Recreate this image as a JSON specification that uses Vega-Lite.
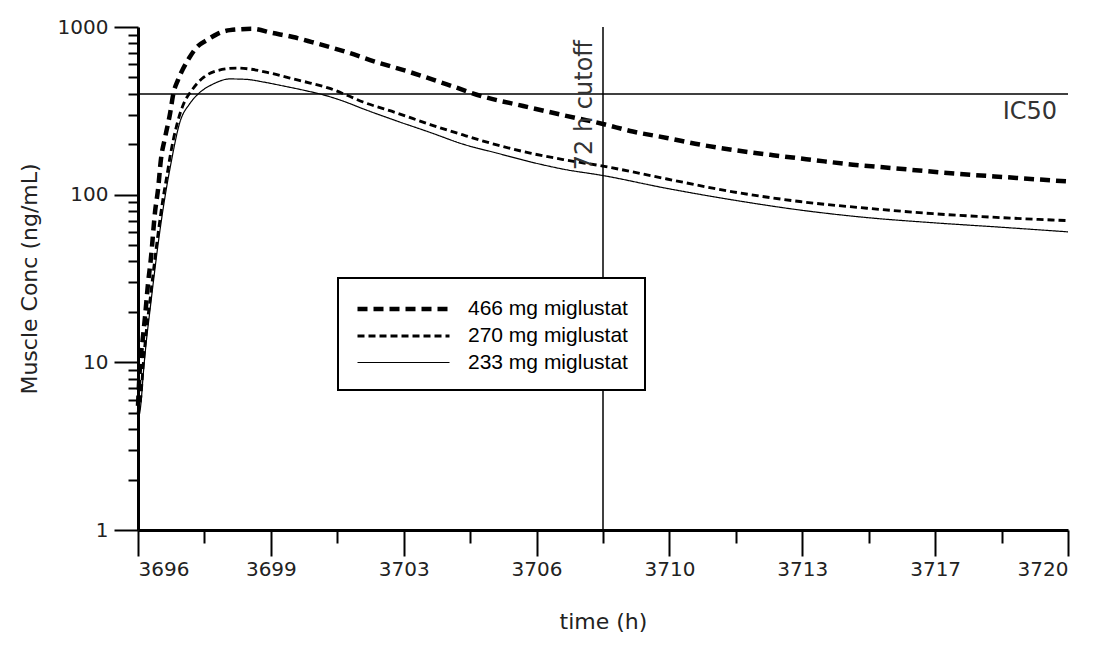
{
  "$schema": "https://vega.github.io/schema/vega-lite/v6.json",
  "width": 930,
  "height": 503,
  "autosize": {"type": "none"},
  "padding": {"left": 138, "top": 27, "right": 31, "bottom": 120},
  "background": "white",
  "config": {
    "view": {"stroke": null},
    "axis": {
      "grid": false,
      "domainColor": "black",
      "domainWidth": 3,
      "tickColor": "black",
      "tickWidth": 2,
      "labelFont": "DejaVu Sans",
      "labelFontSize": 20,
      "labelColor": "#222",
      "titleFont": "DejaVu Sans",
      "titleFontSize": 22,
      "titleFontWeight": "normal",
      "titleColor": "#222",
      "labelOverlap": false,
      "labelBound": false
    }
  },
  "layer": [
    {
      "data": {
        "values": [
          {"series": "466 mg miglustat", "t": 3696.0, "c": 5.5},
          {"series": "466 mg miglustat", "t": 3696.05, "c": 9.4},
          {"series": "466 mg miglustat", "t": 3696.12, "c": 13.6},
          {"series": "466 mg miglustat", "t": 3696.18, "c": 18.6},
          {"series": "466 mg miglustat", "t": 3696.26, "c": 29.7},
          {"series": "466 mg miglustat", "t": 3696.33, "c": 41},
          {"series": "466 mg miglustat", "t": 3696.44, "c": 79},
          {"series": "466 mg miglustat", "t": 3696.52, "c": 109},
          {"series": "466 mg miglustat", "t": 3696.59, "c": 161},
          {"series": "466 mg miglustat", "t": 3696.7, "c": 220},
          {"series": "466 mg miglustat", "t": 3696.83, "c": 307},
          {"series": "466 mg miglustat", "t": 3696.91, "c": 398},
          {"series": "466 mg miglustat", "t": 3697.03, "c": 482},
          {"series": "466 mg miglustat", "t": 3697.16, "c": 561},
          {"series": "466 mg miglustat", "t": 3697.32, "c": 653},
          {"series": "466 mg miglustat", "t": 3697.52, "c": 759},
          {"series": "466 mg miglustat", "t": 3697.78, "c": 836},
          {"series": "466 mg miglustat", "t": 3698.04, "c": 907},
          {"series": "466 mg miglustat", "t": 3698.37, "c": 958},
          {"series": "466 mg miglustat", "t": 3698.94, "c": 975},
          {"series": "466 mg miglustat", "t": 3699.48, "c": 920},
          {"series": "466 mg miglustat", "t": 3700.0, "c": 871},
          {"series": "466 mg miglustat", "t": 3700.49, "c": 813},
          {"series": "466 mg miglustat", "t": 3700.95, "c": 759},
          {"series": "466 mg miglustat", "t": 3701.39, "c": 708},
          {"series": "466 mg miglustat", "t": 3701.99, "c": 635},
          {"series": "466 mg miglustat", "t": 3703.02, "c": 538},
          {"series": "466 mg miglustat", "t": 3703.97, "c": 455},
          {"series": "466 mg miglustat", "t": 3704.9, "c": 385},
          {"series": "466 mg miglustat", "t": 3705.94, "c": 338},
          {"series": "466 mg miglustat", "t": 3706.97, "c": 298},
          {"series": "466 mg miglustat", "t": 3708.0, "c": 264},
          {"series": "466 mg miglustat", "t": 3708.77, "c": 238},
          {"series": "466 mg miglustat", "t": 3709.65, "c": 218},
          {"series": "466 mg miglustat", "t": 3710.5, "c": 199},
          {"series": "466 mg miglustat", "t": 3711.35, "c": 185},
          {"series": "466 mg miglustat", "t": 3712.39, "c": 172},
          {"series": "466 mg miglustat", "t": 3713.42, "c": 161},
          {"series": "466 mg miglustat", "t": 3714.45, "c": 151},
          {"series": "466 mg miglustat", "t": 3715.48, "c": 144},
          {"series": "466 mg miglustat", "t": 3716.52, "c": 137},
          {"series": "466 mg miglustat", "t": 3717.39, "c": 132},
          {"series": "466 mg miglustat", "t": 3718.43, "c": 127},
          {"series": "466 mg miglustat", "t": 3719.28, "c": 123},
          {"series": "466 mg miglustat", "t": 3720.0, "c": 120},

          {"series": "270 mg miglustat", "t": 3696.0, "c": 5},
          {"series": "270 mg miglustat", "t": 3696.08, "c": 6.5},
          {"series": "270 mg miglustat", "t": 3696.13, "c": 9.4},
          {"series": "270 mg miglustat", "t": 3696.21, "c": 15},
          {"series": "270 mg miglustat", "t": 3696.31, "c": 23.5},
          {"series": "270 mg miglustat", "t": 3696.41, "c": 37},
          {"series": "270 mg miglustat", "t": 3696.52, "c": 59},
          {"series": "270 mg miglustat", "t": 3696.64, "c": 93},
          {"series": "270 mg miglustat", "t": 3696.77, "c": 140},
          {"series": "270 mg miglustat", "t": 3696.83, "c": 170},
          {"series": "270 mg miglustat", "t": 3697.0, "c": 260},
          {"series": "270 mg miglustat", "t": 3697.17, "c": 345},
          {"series": "270 mg miglustat", "t": 3697.39, "c": 420},
          {"series": "270 mg miglustat", "t": 3697.69, "c": 500},
          {"series": "270 mg miglustat", "t": 3698.03, "c": 548},
          {"series": "270 mg miglustat", "t": 3698.55, "c": 569},
          {"series": "270 mg miglustat", "t": 3698.89, "c": 561},
          {"series": "270 mg miglustat", "t": 3699.41, "c": 531},
          {"series": "270 mg miglustat", "t": 3699.92, "c": 496},
          {"series": "270 mg miglustat", "t": 3700.44, "c": 463},
          {"series": "270 mg miglustat", "t": 3700.95, "c": 430},
          {"series": "270 mg miglustat", "t": 3701.39, "c": 392},
          {"series": "270 mg miglustat", "t": 3701.81, "c": 357},
          {"series": "270 mg miglustat", "t": 3702.68, "c": 307},
          {"series": "270 mg miglustat", "t": 3703.54, "c": 262},
          {"series": "270 mg miglustat", "t": 3704.39, "c": 227},
          {"series": "270 mg miglustat", "t": 3705.26, "c": 198},
          {"series": "270 mg miglustat", "t": 3706.12, "c": 177},
          {"series": "270 mg miglustat", "t": 3706.97, "c": 162},
          {"series": "270 mg miglustat", "t": 3708.0, "c": 148},
          {"series": "270 mg miglustat", "t": 3709.65, "c": 124},
          {"series": "270 mg miglustat", "t": 3711.35, "c": 104},
          {"series": "270 mg miglustat", "t": 3713.08, "c": 91},
          {"series": "270 mg miglustat", "t": 3714.81, "c": 83},
          {"series": "270 mg miglustat", "t": 3716.52, "c": 77},
          {"series": "270 mg miglustat", "t": 3718.25, "c": 73},
          {"series": "270 mg miglustat", "t": 3720.0, "c": 70},

          {"series": "233 mg miglustat", "t": 3696.0, "c": 4.5},
          {"series": "233 mg miglustat", "t": 3696.08, "c": 5.8},
          {"series": "233 mg miglustat", "t": 3696.13, "c": 8.2},
          {"series": "233 mg miglustat", "t": 3696.21, "c": 13},
          {"series": "233 mg miglustat", "t": 3696.31, "c": 20.5},
          {"series": "233 mg miglustat", "t": 3696.41, "c": 32},
          {"series": "233 mg miglustat", "t": 3696.52, "c": 51},
          {"series": "233 mg miglustat", "t": 3696.64, "c": 80},
          {"series": "233 mg miglustat", "t": 3696.77, "c": 122},
          {"series": "233 mg miglustat", "t": 3696.83, "c": 145},
          {"series": "233 mg miglustat", "t": 3697.08, "c": 270},
          {"series": "233 mg miglustat", "t": 3697.34, "c": 350},
          {"series": "233 mg miglustat", "t": 3697.55, "c": 398},
          {"series": "233 mg miglustat", "t": 3697.94, "c": 457},
          {"series": "233 mg miglustat", "t": 3698.37, "c": 490},
          {"series": "233 mg miglustat", "t": 3698.8, "c": 487},
          {"series": "233 mg miglustat", "t": 3699.23, "c": 470},
          {"series": "233 mg miglustat", "t": 3699.75, "c": 445},
          {"series": "233 mg miglustat", "t": 3700.27, "c": 420},
          {"series": "233 mg miglustat", "t": 3700.78, "c": 394},
          {"series": "233 mg miglustat", "t": 3701.3, "c": 361},
          {"series": "233 mg miglustat", "t": 3701.81, "c": 325},
          {"series": "233 mg miglustat", "t": 3702.68, "c": 275},
          {"series": "233 mg miglustat", "t": 3703.54, "c": 235},
          {"series": "233 mg miglustat", "t": 3704.39, "c": 200},
          {"series": "233 mg miglustat", "t": 3705.26, "c": 177},
          {"series": "233 mg miglustat", "t": 3706.12, "c": 157},
          {"series": "233 mg miglustat", "t": 3706.97, "c": 142},
          {"series": "233 mg miglustat", "t": 3708.0, "c": 130},
          {"series": "233 mg miglustat", "t": 3709.65, "c": 109},
          {"series": "233 mg miglustat", "t": 3711.35, "c": 93},
          {"series": "233 mg miglustat", "t": 3713.08, "c": 81},
          {"series": "233 mg miglustat", "t": 3714.81, "c": 73},
          {"series": "233 mg miglustat", "t": 3716.52, "c": 68},
          {"series": "233 mg miglustat", "t": 3718.25, "c": 64},
          {"series": "233 mg miglustat", "t": 3720.0, "c": 60}
        ]
      },
      "mark": {"type": "line", "interpolate": "monotone", "color": "black"},
      "encoding": {
        "x": {
          "field": "t",
          "type": "quantitative",
          "title": "time (h)",
          "scale": {"domain": [3696, 3720], "nice": false, "zero": false},
          "axis": {
            "values": [3696, 3697.7142857, 3699.4285714, 3701.1428571, 3702.8571429, 3704.5714286, 3706.2857143, 3708, 3709.7142857, 3711.4285714, 3713.1428571, 3714.8571429, 3716.5714286, 3718.2857143, 3720],
            "labelExpr": "round((datum.value - 3696) * 14 / 24) % 2 == 0 ? format(datum.value, '.0f') : ''",
            "tickSize": {"condition": {"test": "round((datum.value - 3696) * 14 / 24) % 2 == 0", "value": 26}, "value": 13},
            "labelPadding": 3,
            "titlePadding": 32
          }
        },
        "y": {
          "field": "c",
          "type": "quantitative",
          "title": "Muscle Conc (ng/mL)",
          "scale": {"type": "log", "domain": [1, 1000], "nice": false},
          "axis": {
            "values": [1, 2, 3, 4, 5, 6, 7, 8, 9, 10, 20, 30, 40, 50, 60, 70, 80, 90, 100, 200, 300, 400, 500, 600, 700, 800, 900, 1000],
            "labelExpr": "indexof([1, 10, 100, 1000], datum.value) >= 0 ? format(datum.value, 'd') : ''",
            "tickSize": {"condition": {"test": "indexof([1, 10, 100, 1000], datum.value) >= 0", "value": 24}, "value": 10},
            "labelPadding": 6,
            "titlePadding": 16
          }
        },
        "strokeDash": {
          "field": "series",
          "type": "nominal",
          "scale": {
            "domain": ["466 mg miglustat", "270 mg miglustat", "233 mg miglustat"],
            "range": [[10, 6], [7, 4], [1, 0]]
          },
          "legend": {
            "title": null,
            "orient": "none",
            "legendX": 200,
            "legendY": 251,
            "symbolType": "M-1,0H7",
            "symbolSize": 529,
            "symbolStrokeColor": "black",
            "labelFont": "Liberation Sans",
            "labelFontSize": 21,
            "labelColor": "black",
            "labelOffset": 85,
            "labelLimit": 400,
            "rowPadding": 4,
            "padding": 17,
            "strokeColor": "black",
            "fillColor": "white",
            "encode": {
              "symbols": {"update": {"strokeWidth": {"signal": "datum.value === '466 mg miglustat' ? 4 : 1.5"}}},
              "legend": {"update": {"strokeWidth": {"value": 2}}}
            }
          }
        },
        "strokeWidth": {
          "field": "series",
          "type": "nominal",
          "scale": {
            "domain": ["466 mg miglustat", "270 mg miglustat", "233 mg miglustat"],
            "range": [4.5, 1.2, 1.2]
          },
          "legend": null
        }
      }
    },
    {
      "data": {"values": [{"c": 398}]},
      "mark": {"type": "rule", "color": "black", "strokeWidth": 1.5},
      "encoding": {"y": {"field": "c", "type": "quantitative"}}
    },
    {
      "data": {"values": [{"t": 3708}]},
      "mark": {"type": "rule", "color": "black", "strokeWidth": 1.5},
      "encoding": {"x": {"field": "t", "type": "quantitative"}}
    },
    {
      "data": {"values": [{"t": 3720, "c": 398, "label": "IC50"}]},
      "mark": {"type": "text", "align": "right", "baseline": "top", "dx": -11, "dy": 6, "font": "DejaVu Sans", "fontSize": 24, "color": "#333"},
      "encoding": {
        "x": {"field": "t", "type": "quantitative"},
        "y": {"field": "c", "type": "quantitative"},
        "text": {"field": "label"}
      }
    },
    {
      "data": {"values": [{"t": 3708, "c": 140, "label": "72 h cutoff"}]},
      "mark": {"type": "text", "align": "left", "baseline": "alphabetic", "angle": 270, "dy": -11, "font": "DejaVu Sans", "fontSize": 24, "color": "#333"},
      "encoding": {
        "x": {"field": "t", "type": "quantitative"},
        "y": {"field": "c", "type": "quantitative"},
        "text": {"field": "label"}
      }
    }
  ]
}
